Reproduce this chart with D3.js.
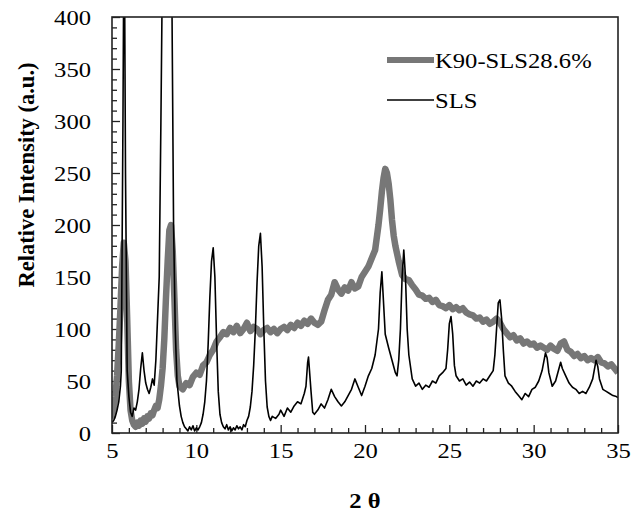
<!DOCTYPE html>
<html>
<head>
<meta charset="utf-8">
<script src="https://cdn.jsdelivr.net/npm/d3@7"></script>
<style>
  body { margin: 0; background: #fff; }
  svg text { font-family: "Liberation Serif", "Times New Roman", Tinos, "DejaVu Serif", serif; fill: #000; }
</style>
</head>
<body>
<script>
// K90-SLS28.6% (gray, thick)
var k90Theta = [5.0,5.1,5.2,5.3,5.4,5.5,5.6,5.7,5.8,5.9,6.0,6.1,6.2,6.3,6.4,6.5,6.6,6.7,6.8,6.9,7.0,7.1,7.2,7.3,7.4,7.5,7.6,7.7,7.8,7.9,8.0,8.1,8.2,8.3,8.4,8.5,8.6,8.7,8.8,8.9,9.0,9.2,9.4,9.6,9.8,10.0,10.2,10.4,10.6,10.8,11.0,11.2,11.4,11.6,11.8,12.0,12.2,12.4,12.6,12.8,13.0,13.2,13.4,13.6,13.8,14.0,14.2,14.4,14.6,14.8,15.0,15.2,15.4,15.6,15.8,16.0,16.2,16.4,16.6,16.8,17.0,17.2,17.4,17.6,17.8,18.0,18.2,18.4,18.6,18.8,19.0,19.2,19.4,19.6,19.8,20.0,20.2,20.4,20.6,20.8,20.9,21.0,21.1,21.2,21.3,21.4,21.5,21.6,21.7,21.8,22.0,22.2,22.4,22.6,22.8,23.0,23.2,23.4,23.6,23.8,24.0,24.2,24.4,24.6,24.8,25.0,25.2,25.4,25.6,25.8,26.0,26.2,26.4,26.6,26.8,27.0,27.2,27.4,27.6,27.8,28.0,28.2,28.4,28.6,28.8,29.0,29.2,29.4,29.6,29.8,30.0,30.2,30.4,30.6,30.8,31.0,31.2,31.4,31.6,31.8,32.0,32.2,32.4,32.6,32.8,33.0,33.2,33.4,33.6,33.8,34.0,34.2,34.4,34.6,34.8,35.0];
var k90Int = [14,22,35,55,85,120,160,183,165,110,50,22,12,8,6,10,7,12,9,14,11,16,14,19,17,22,26,24,32,45,62,90,130,165,195,200,175,130,80,55,45,42,48,46,54,58,56,65,68,75,80,88,92,97,95,101,97,103,96,100,106,98,102,100,95,99,101,97,100,96,100,102,99,104,101,106,103,108,105,110,106,104,107,118,128,133,145,138,134,140,137,145,139,141,150,155,160,168,176,200,215,232,245,254,250,240,225,205,190,180,165,152,148,147,142,138,133,132,129,130,126,128,123,122,120,123,119,121,118,120,116,114,113,110,111,107,109,105,107,110,106,100,96,92,94,89,91,86,88,85,86,82,84,82,80,84,81,79,86,88,80,78,74,76,72,74,70,72,70,73,68,67,64,66,62,58];

// SLS (black, thin)
var slsTheta = [5.0,5.1,5.2,5.3,5.4,5.5,5.55,5.65,5.72,5.8,5.9,6.0,6.1,6.2,6.3,6.4,6.5,6.6,6.7,6.8,6.9,7.0,7.1,7.2,7.3,7.4,7.5,7.6,7.7,7.8,7.9,7.96,8.25,8.56,8.65,8.75,8.85,9.0,9.1,9.2,9.3,9.4,9.5,9.6,9.7,9.8,9.9,10.0,10.1,10.2,10.3,10.4,10.5,10.6,10.7,10.8,10.9,11.0,11.1,11.2,11.3,11.4,11.5,11.6,11.7,11.8,11.9,12.0,12.1,12.2,12.3,12.4,12.5,12.6,12.7,12.8,12.9,13.0,13.1,13.2,13.3,13.4,13.5,13.6,13.7,13.8,13.9,14.0,14.1,14.2,14.3,14.4,14.5,14.7,14.9,15.0,15.2,15.4,15.6,15.8,16.0,16.2,16.4,16.5,16.6,16.65,16.8,16.9,17.0,17.2,17.4,17.6,17.8,18.0,18.2,18.4,18.6,18.8,19.0,19.2,19.4,19.6,19.8,20.0,20.2,20.4,20.6,20.8,20.9,21.0,21.1,21.2,21.4,21.6,21.8,21.9,22.0,22.1,22.2,22.3,22.4,22.5,22.6,22.8,23.0,23.2,23.4,23.6,23.8,24.0,24.2,24.4,24.6,24.8,24.9,25.0,25.1,25.2,25.3,25.4,25.6,25.8,26.0,26.2,26.4,26.6,26.8,27.0,27.2,27.4,27.6,27.7,27.8,27.9,28.0,28.1,28.2,28.3,28.5,28.7,28.9,29.1,29.3,29.5,29.7,29.9,30.1,30.3,30.5,30.7,30.8,30.9,31.1,31.3,31.5,31.6,31.7,31.9,32.1,32.3,32.5,32.7,32.9,33.1,33.3,33.5,33.7,33.8,33.9,34.1,34.3,34.5,34.7,34.9,35.0];
var slsInt = [10,12,16,22,30,45,60,300,520,250,60,35,20,16,24,22,30,42,62,77,60,48,42,38,44,52,46,70,110,150,300,400,700,400,200,100,50,26,16,10,6,4,2,6,3,7,2,5,3,6,10,18,30,50,85,130,165,178,150,90,40,18,10,6,4,8,3,6,2,5,3,7,4,6,3,8,6,12,16,25,40,65,100,145,180,192,160,100,50,25,16,12,16,14,18,22,16,24,20,26,30,28,38,45,68,73,40,20,18,22,28,24,32,42,35,30,26,30,36,42,52,44,36,45,55,62,75,100,135,155,125,95,82,70,58,55,70,100,150,176,150,100,75,52,45,48,42,46,44,50,48,55,58,62,80,105,112,95,65,55,50,52,46,49,45,50,48,52,50,55,60,75,100,125,128,110,80,55,48,45,40,36,32,38,35,42,44,50,60,77,72,58,45,50,62,68,62,55,48,44,42,38,40,38,44,52,70,64,52,42,40,38,36,35,34];

var xTicks = [5,10,15,20,25,30,35];
var yTicks = [0,50,100,150,200,250,300,350,400];
var seriesNames = ["K90-SLS28.6%","SLS"];

var W = 641, H = 512;
var margin = {top: 17, right: 23, bottom: 79, left: 112};
var width = W - margin.left - margin.right;
var height = H - margin.top - margin.bottom;
var stretchX = 1.12; // the reference text is a little wider than plain Times

var svg = d3.select("body").append("svg")
  .attr("width", W)
  .attr("height", H);

var g = svg.append("g")
  .attr("transform", "translate(" + margin.left + "," + margin.top + ")");

var x = d3.scaleLinear().domain([5, 35]).range([0, width]);
var y = d3.scaleLinear().domain([0, 400]).range([height, 0]);

// widen a text horizontally around its own anchor
function stretch(sel) {
  sel.each(function() {
    var t = d3.select(this);
    var tx = +t.attr("x") || 0, ty = +t.attr("y") || 0;
    t.attr("transform", "translate(" + tx + "," + ty + ") scale(" + stretchX + ",1) translate(" + (-tx) + "," + (-ty) + ")");
  });
}

g.append("clipPath").attr("id", "clip")
  .append("rect").attr("width", width).attr("height", height);

// minor ticks (inside)
var xMinor = d3.range(6, 35, 1).filter(function(d) { return d % 5 !== 0; });
var yMinor = d3.range(10, 400, 10).filter(function(d) { return d % 50 !== 0; });

g.append("g").attr("transform", "translate(0," + height + ")")
  .call(d3.axisTop(x).tickValues(xMinor).tickSize(5).tickFormat(""))
  .call(function(a) { a.select(".domain").remove(); a.selectAll("line").attr("stroke", "#222").attr("stroke-width", 1.3); });
g.append("g")
  .call(d3.axisRight(y).tickValues(yMinor).tickSize(5).tickFormat(""))
  .call(function(a) { a.select(".domain").remove(); a.selectAll("line").attr("stroke", "#222").attr("stroke-width", 1.3); });

// major axes
var xAxis = g.append("g").attr("transform", "translate(0," + height + ")")
  .call(d3.axisTop(x).tickValues(xTicks).tickSize(8).tickPadding(-33));
xAxis.select(".domain").remove();
xAxis.selectAll("line").attr("stroke", "#222").attr("stroke-width", 1.3);
xAxis.selectAll("text").attr("font-size", 22).call(stretch);

var yAxis = g.append("g")
  .call(d3.axisRight(y).tickValues(yTicks).tickSize(8).tickPadding(-29));
yAxis.select(".domain").remove();
yAxis.selectAll("line").attr("stroke", "#222").attr("stroke-width", 1.3);
yAxis.selectAll("text").attr("font-size", 22).attr("text-anchor", "end").call(stretch);

// series
var line = d3.line()
  .x(function(d) { return x(d[0]); })
  .y(function(d) { return y(d[1]); });

var plot = g.append("g").attr("clip-path", "url(#clip)");

plot.append("path")
  .datum(d3.zip(k90Theta, k90Int))
  .attr("fill", "none")
  .attr("stroke", "#777")
  .attr("stroke-width", 6.5)
  .attr("stroke-linejoin", "round")
  .attr("d", line);

plot.append("path")
  .datum(d3.zip(slsTheta, slsInt))
  .attr("fill", "none")
  .attr("stroke", "#000")
  .attr("stroke-width", 1.6)
  .attr("stroke-linejoin", "round")
  .attr("d", line);

// frame
g.append("rect")
  .attr("width", width).attr("height", height)
  .attr("fill", "none").attr("stroke", "#222").attr("stroke-width", 1.6);

// legend
var legend = g.append("g").attr("transform", "translate(" + (387 - margin.left) + "," + (60 - margin.top) + ")");
var legendStyle = [{color: "#777", w: 6}, {color: "#000", w: 1.6}];
seriesNames.forEach(function(name, i) {
  var row = legend.append("g").attr("transform", "translate(0," + (i * 40) + ")");
  row.append("line").attr("x1", 0).attr("x2", 47)
    .attr("stroke", legendStyle[i].color).attr("stroke-width", legendStyle[i].w);
  row.append("text").attr("x", 48).attr("y", 8).attr("font-size", 22).text(name).call(stretch);
});

// axis titles
svg.append("text")
  .attr("x", margin.left + x(20)).attr("y", 508)
  .attr("text-anchor", "middle").attr("font-size", 22).attr("font-weight", "bold")
  .text("2 θ").call(stretch);

svg.append("text")
  .attr("transform", "translate(34,175) rotate(-90)")
  .attr("text-anchor", "middle").attr("font-size", 22.5).attr("font-weight", "bold")
  .text("Relative Intensity (a.u.)");
</script>
</body>
</html>
